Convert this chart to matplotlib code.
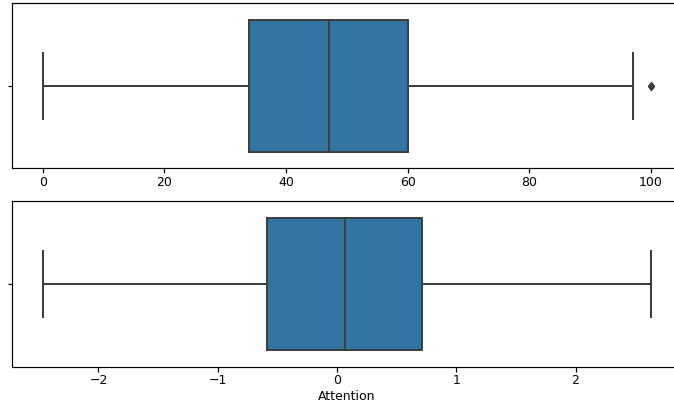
import matplotlib
matplotlib.use("Agg")
import matplotlib.pyplot as plt

# summary values
raw_stats = [34, 47, 60, 0, 97]          # q1, median, q3, whislo, whishi
raw_outliers = [100, 100, 100]
att_stats = [-0.587, 0.071, 0.711, -2.467, 2.632]
att_outliers = []
xlabels = ["", "Attention"]

box_color = "#3274a1"
line_color = "#3f3f3f"
lw = 2


def make_stats(vals, fliers):
    q1, med, q3, lo, hi = vals
    return [dict(q1=q1, med=med, q3=q3, whislo=lo, whishi=hi, fliers=fliers)]


fig = plt.figure(figsize=(674 / 72, 414 / 72), dpi=72)
ax1 = fig.add_axes([12.3 / 674, 1 - 168 / 414, 669 / 674, 165 / 414])
ax2 = fig.add_axes([12.3 / 674, 1 - 367 / 414, 669 / 674, 166 / 414])

for ax, vals, fl, lab in [(ax1, raw_stats, raw_outliers, xlabels[0]),
                          (ax2, att_stats, att_outliers, xlabels[1])]:
    ax.bxp(make_stats(vals, fl), positions=[0], vert=False, widths=0.8,
           capwidths=0.4, patch_artist=True, showfliers=True,
           boxprops=dict(facecolor=box_color, edgecolor=line_color, linewidth=lw),
           medianprops=dict(color=line_color, linewidth=lw),
           whiskerprops=dict(color=line_color, linewidth=lw),
           capprops=dict(color=line_color, linewidth=lw),
           flierprops=dict(marker="d", markerfacecolor=line_color,
                           markeredgecolor=line_color, markersize=6))
    data_lo = min(vals[3], min(fl) if fl else vals[3])
    data_hi = max(vals[4], max(fl) if fl else vals[4])
    pad = (data_hi - data_lo) * 0.05
    ax.set_xlim(data_lo - pad, data_hi + pad)
    ax.set_ylim(0.5, -0.5)
    ax.set_yticks([0])
    ax.set_yticklabels([""])
    ax.set_xlabel(lab, fontsize=12.5, labelpad=2)
    ax.tick_params(labelsize=12.5, length=4.5, width=1.2, pad=3)
    for s in ax.spines.values():
        s.set_linewidth(1.2)

fig.savefig("out.png", dpi=72)
